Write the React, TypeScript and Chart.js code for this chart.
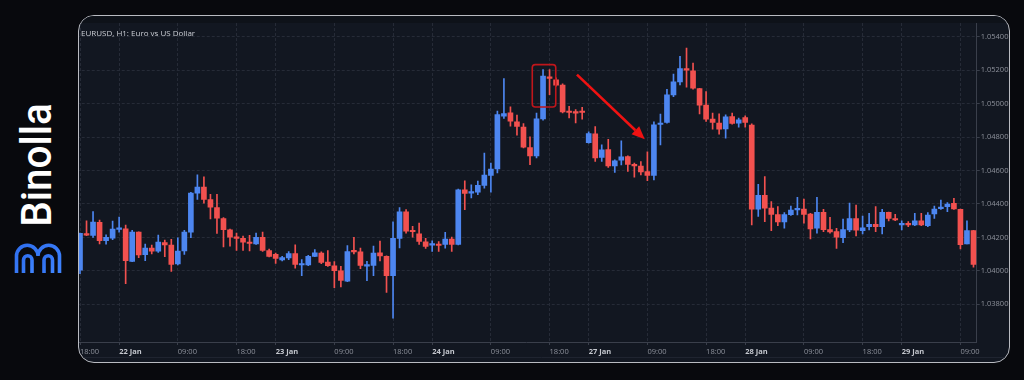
import React, { useEffect, useRef } from 'react';
import { Chart, registerables } from 'chart.js';

Chart.register(...registerables);

// ---- Data (EURUSD H1 candles) ----
const opens = [
  1.04005, 1.04222, 1.04212, 1.0429, 1.0418, 1.04196, 1.04248, 1.04252, 1.04057, 1.04232,
  1.04097, 1.04136, 1.04118, 1.0417, 1.04154, 1.04041, 1.0412, 1.04232, 1.04465, 1.04501,
  1.04427, 1.04379, 1.04313, 1.04246, 1.04198, 1.04194, 1.04168, 1.04162, 1.042, 1.04122,
  1.04099, 1.04065, 1.04077, 1.04103, 1.04035, 1.04035, 1.04087, 1.04106, 1.04053, 1.04031,
  1.04001, 1.03939, 1.04118, 1.04114, 1.04029, 1.04033, 1.04108, 1.04087, 1.03971, 1.04194,
  1.04353, 1.0424, 1.04222, 1.04174, 1.04154, 1.04156, 1.04158, 1.0419, 1.04158, 1.04485,
  1.04465, 1.04471, 1.04511, 1.04571, 1.04609, 1.04925, 1.04945, 1.04891, 1.04859, 1.04737,
  1.04687, 1.04909, 1.0516, 1.05142, 1.0511, 1.04955, 1.04949, 1.04953, 1.04767, 1.04819,
  1.04678, 1.04725, 1.04628, 1.04662, 1.04684, 1.04634, 1.04626, 1.04594, 1.0457, 1.04875,
  1.04887, 1.05052, 1.0513, 1.05208, 1.05196, 1.0509, 1.04991, 1.04907, 1.04883, 1.04849,
  1.04923, 1.04883, 1.04917, 1.04871, 1.04369, 1.04452, 1.04375, 1.04336, 1.04293, 1.04336,
  1.04364, 1.0437, 1.0434, 1.04255, 1.0435, 1.04247, 1.04235, 1.04199, 1.04245, 1.04312,
  1.04241, 1.04265, 1.04279, 1.04265, 1.0435, 1.0431, 1.04275, 1.04279, 1.04275, 1.043,
  1.04271, 1.0434, 1.04372, 1.04384, 1.04404, 1.04368, 1.04161, 1.04241,
];
const highs = [
  1.04226, 1.043, 1.04355, 1.04304, 1.04216, 1.04298, 1.04321, 1.04274, 1.04242, 1.04234,
  1.0416, 1.04154, 1.04214, 1.04184, 1.04188, 1.04198, 1.04242, 1.04469, 1.04574, 1.04562,
  1.04457, 1.04457, 1.04318, 1.0425, 1.04226, 1.04208, 1.04212, 1.04226, 1.04232, 1.0413,
  1.04106, 1.04087, 1.04116, 1.04156, 1.04067, 1.04093, 1.04128, 1.04114, 1.04122, 1.04055,
  1.04027, 1.04152, 1.042, 1.04136, 1.04057, 1.04148, 1.04178, 1.0409, 1.04294, 1.04379,
  1.04367, 1.04266, 1.04286, 1.04194, 1.0418, 1.04176, 1.0423, 1.04202, 1.04489, 1.04539,
  1.04515, 1.04537, 1.04705, 1.04645, 1.04955, 1.0515, 1.0498, 1.04931, 1.04881, 1.04801,
  1.04943, 1.05204, 1.05204, 1.05154, 1.05118, 1.04984, 1.04964, 1.04978, 1.04831, 1.04863,
  1.04753, 1.04787, 1.04664, 1.04777, 1.04688, 1.04644, 1.04654, 1.04711, 1.04891, 1.04937,
  1.05086, 1.05176, 1.05282, 1.05332, 1.05242, 1.05092, 1.05072, 1.04943, 1.04939, 1.04933,
  1.04943, 1.04913, 1.04927, 1.04879, 1.04518, 1.04564, 1.04414, 1.04385, 1.04348, 1.04388,
  1.0444, 1.0443, 1.04344, 1.0444, 1.04368, 1.0432, 1.04255, 1.0431, 1.04406, 1.04394,
  1.04328, 1.04344, 1.04384, 1.04368, 1.04352, 1.04338, 1.043, 1.04295, 1.04344, 1.04344,
  1.04348, 1.04388, 1.04424, 1.04408, 1.04434, 1.0437, 1.043, 1.04243,
];
const lows = [
  1.03983, 1.0421, 1.042, 1.04162, 1.0416, 1.04186, 1.04232, 1.03923, 1.04055, 1.04079,
  1.04061, 1.04101, 1.0411, 1.04085, 1.03997, 1.04035, 1.04099, 1.04198, 1.04427, 1.04405,
  1.04311, 1.04224, 1.04144, 1.04148, 1.04122, 1.04122, 1.0412, 1.04158, 1.04116, 1.04083,
  1.04045, 1.04059, 1.04067, 1.04017, 1.03971, 1.04031, 1.04085, 1.04043, 1.04027, 1.039,
  1.03904, 1.03935, 1.04101, 1.04013, 1.03941, 1.03971, 1.04059, 1.03872, 1.03718, 1.04138,
  1.04226, 1.04202, 1.04158, 1.04134, 1.04116, 1.04116, 1.04136, 1.04116, 1.04156, 1.04366,
  1.04436, 1.04455, 1.04495, 1.04471, 1.04585, 1.04911, 1.04865, 1.04811, 1.04735, 1.04635,
  1.04675, 1.04901, 1.05054, 1.05104, 1.04945, 1.04915, 1.04885, 1.04907, 1.04763, 1.04655,
  1.04654, 1.04618, 1.04588, 1.04634, 1.04594, 1.0456, 1.04574, 1.0454, 1.04544, 1.04753,
  1.04883, 1.05042, 1.05112, 1.05098, 1.05086, 1.04939, 1.04893, 1.04847, 1.04817, 1.04793,
  1.04877, 1.04859, 1.04859, 1.04275, 1.04325, 1.04295, 1.04241, 1.0427, 1.04255, 1.04332,
  1.04334, 1.04285, 1.04191, 1.04225, 1.04235, 1.04225, 1.04135, 1.04169, 1.04235, 1.04209,
  1.04221, 1.04245, 1.04235, 1.04221, 1.04299, 1.043, 1.04245, 1.04265, 1.04271, 1.04271,
  1.04265, 1.04314, 1.04368, 1.04354, 1.04368, 1.04131, 1.04161, 1.04022,
];
const closes = [
  1.04224, 1.04214, 1.04292, 1.0418, 1.042, 1.0425, 1.04256, 1.04061, 1.04232, 1.04095,
  1.04136, 1.04118, 1.04172, 1.04156, 1.04039, 1.04118, 1.04232, 1.04465, 1.04501, 1.04427,
  1.04381, 1.04315, 1.04246, 1.04202, 1.04194, 1.04172, 1.04164, 1.042, 1.04122, 1.04087,
  1.04075, 1.04079, 1.04103, 1.04039, 1.04041, 1.04087, 1.04108, 1.04051, 1.04031, 1.04001,
  1.03943, 1.04116, 1.04114, 1.04033, 1.04035, 1.04106, 1.04089, 1.03971, 1.04194, 1.04353,
  1.04238, 1.04234, 1.04176, 1.04146, 1.0416, 1.04152, 1.0419, 1.04158, 1.04485, 1.04463,
  1.04471, 1.04511, 1.04573, 1.04609, 1.04935, 1.04941, 1.04895, 1.04863, 1.04739, 1.04687,
  1.04909, 1.05164, 1.0515, 1.0511, 1.04951, 1.04947, 1.04943, 1.04947, 1.04821, 1.04675,
  1.04723, 1.04628, 1.04658, 1.04682, 1.04636, 1.04628, 1.04592, 1.0457, 1.04873, 1.04883,
  1.05052, 1.0513, 1.0521, 1.052, 1.05092, 1.04991, 1.04907, 1.04887, 1.04847, 1.04921,
  1.04881, 1.04903, 1.04887, 1.04369, 1.04452, 1.04375, 1.04337, 1.04293, 1.04336, 1.04364,
  1.04374, 1.04338, 1.04251, 1.0435, 1.04247, 1.04233, 1.04201, 1.04247, 1.04312, 1.04243,
  1.04257, 1.04279, 1.04265, 1.0435, 1.04314, 1.04304, 1.04281, 1.04275, 1.043, 1.04275,
  1.04334, 1.0437, 1.0438, 1.044, 1.0437, 1.04157, 1.04241, 1.04038,
];

// x-axis ticks: bar index -> label
const timeTickIndex = [0, 6, 15, 24, 30, 39, 48, 54, 63, 72, 78, 87, 96, 102, 111, 120, 126, 135];
const timeTickLabels = [
  '18:00', '22 Jan', '09:00', '18:00', '23 Jan', '09:00', '18:00', '24 Jan', '09:00',
  '18:00', '27 Jan', '09:00', '18:00', '28 Jan', '09:00', '18:00', '29 Jan', '09:00',
];
const priceTicks = [1.038, 1.04, 1.042, 1.044, 1.046, 1.048, 1.05, 1.052, 1.054];

// annotations in data units (bar index, price)
const boxX = [69.35, 72.95];
const boxY = [1.0498, 1.05233];
const arrowX = [76.2, 86.6];
const arrowY = [1.05173, 1.04787];

const chartTitle = 'EURUSD, H1: Euro vs US Dollar';

const UP = '#4d86f0';
const DOWN = '#f2514f';
const FONT = "'Open Sans', 'Noto Sans', sans-serif";

const overlayPlugin = {
  id: 'overlay',
  beforeDatasetsDraw(chart: any) {
    const { ctx } = chart;
    ctx.save();
    ctx.strokeStyle = '#1f2430';
    ctx.lineWidth = 1;
    ctx.beginPath();
    ctx.moveTo(0, 341.5);
    ctx.lineTo(chart.width, 341.5);
    ctx.stroke();
    ctx.restore();
  },
  afterDatasetsDraw(chart: any) {
    const { ctx, scales } = chart;
    const xs = scales.x;
    const ys = scales.y;
    ctx.save();
    // title
    ctx.fillStyle = '#c9ccd3';
    ctx.font = `8px ${FONT}`;
    ctx.textBaseline = 'middle';
    ctx.textAlign = 'left';
    ctx.fillText(chartTitle, 7, 17.5);

    // highlight box
    const bx0 = xs.getPixelForValue(boxX[0]);
    const bx1 = xs.getPixelForValue(boxX[1]);
    const by0 = ys.getPixelForValue(boxY[1]);
    const by1 = ys.getPixelForValue(boxY[0]);
    ctx.strokeStyle = '#c0161b';
    ctx.lineWidth = 1.6;
    ctx.beginPath();
    (ctx as any).roundRect(bx0, by0, bx1 - bx0, by1 - by0, 3);
    ctx.stroke();

    // arrow
    const ax0 = xs.getPixelForValue(arrowX[0]);
    const ay0 = ys.getPixelForValue(arrowY[0]);
    const ax1 = xs.getPixelForValue(arrowX[1]);
    const ay1 = ys.getPixelForValue(arrowY[1]);
    const ang = Math.atan2(ay1 - ay0, ax1 - ax0);
    const headLen = 13;
    const headW = 5.5;
    const bxh = ax1 - headLen * Math.cos(ang);
    const byh = ay1 - headLen * Math.sin(ang);
    ctx.strokeStyle = '#f01212';
    ctx.fillStyle = '#f01212';
    ctx.lineWidth = 2.6;
    ctx.beginPath();
    ctx.moveTo(ax0, ay0);
    ctx.lineTo(bxh, byh);
    ctx.stroke();
    ctx.beginPath();
    ctx.moveTo(ax1, ay1);
    ctx.lineTo(bxh + headW * Math.sin(ang), byh - headW * Math.cos(ang));
    ctx.lineTo(bxh - headW * Math.sin(ang), byh + headW * Math.cos(ang));
    ctx.closePath();
    ctx.fill();
    ctx.restore();
  },
};

export default function App() {
  const ref = useRef<HTMLCanvasElement>(null);

  useEffect(() => {
    const colors = opens.map((o, i) => (closes[i] >= o ? UP : DOWN));
    const wickData = highs.map((h, i) => ({ x: i, y: [lows[i], h] }));
    const bodyData = opens.map((o, i) => ({ x: i, y: [o, closes[i]] }));

    const chart = new Chart(ref.current as HTMLCanvasElement, {
      type: 'bar',
      data: {
        datasets: [
          {
            label: 'wick',
            data: wickData as any,
            backgroundColor: colors,
            barThickness: 1,
            grouped: false,
            order: 2,
            borderWidth: 0,
          } as any,
          {
            label: 'body',
            data: bodyData as any,
            backgroundColor: colors,
            barThickness: 5,
            minBarLength: 1.5,
            grouped: false,
            order: 1,
            borderWidth: 0,
            borderSkipped: false,
          } as any,
        ],
      },
      options: {
        responsive: false,
        animation: false,
        devicePixelRatio: 1,
        layout: { padding: { left: 2.74, top: 7, right: 0, bottom: 0 } },
        plugins: {
          legend: { display: false },
          tooltip: { enabled: false },
        },
        scales: {
          x: {
            type: 'linear',
            offset: false,
            min: -0.5,
            max: 137.5,
            afterBuildTicks: (s: any) => {
              s.ticks = timeTickIndex.map((v) => ({ value: v }));
            },
            afterFit: (s: any) => {
              s.height = 20;
            },
            ticks: {
              autoSkip: false,
              maxRotation: 0,
              minRotation: 0,
              align: 'start',
              padding: 2,
              callback: (_v: any, i: number) => timeTickLabels[i],
              color: (c: any) => (timeTickLabels[c.index] && timeTickLabels[c.index].includes('Jan') ? '#c4c7ce' : '#8d919b'),
              font: (c: any) => ({
                family: FONT,
                size: 7.5,
                weight: timeTickLabels[c.index] && timeTickLabels[c.index].includes('Jan') ? 'bold' : 'normal',
              }),
            },
            grid: { offset: false, color: '#262b37', lineWidth: 1, tickLength: 3, tickColor: '#3a3f4b' },
            border: { display: true, color: '#3a3f4b', dash: [3, 2] },
          } as any,
          y: {
            position: 'right',
            min: 1.03575,
            max: 1.054818,
            afterBuildTicks: (s: any) => {
              s.ticks = priceTicks.map((v) => ({ value: v }));
            },
            afterFit: (s: any) => {
              s.width = 32.26;
            },
            ticks: {
              padding: 1,
              color: '#8d919b',
              font: { family: FONT, size: 7.5 },
              callback: (v: any) => Number(v).toFixed(5),
            },
            grid: { color: '#262b37', lineWidth: 1, tickLength: 3, tickColor: '#3a3f4b' },
            border: { display: true, color: '#3a3f4b', dash: [3, 2] },
          } as any,
        },
      },
      plugins: [overlayPlugin],
    });
    return () => chart.destroy();
  }, []);

  return (
    <div
      style={{
        position: 'fixed',
        left: 0,
        top: 0,
        width: 1024,
        height: 380,
        background: '#08090d',
        overflow: 'hidden',
      }}
    >
      <div
        style={{
          position: 'absolute',
          left: 78,
          top: 15,
          width: 932,
          height: 348,
          boxSizing: 'border-box',
          border: '1px solid #b9bbc1',
          borderRadius: 16,
          background: '#121721',
          overflow: 'hidden',
        }}
      >
        <div style={{ position: 'absolute', left: 0, top: 0, right: 0, height: 7, background: '#0e1219' }} />
        <div style={{ position: 'absolute', left: -5, top: 0, width: 935, height: 346 }}>
          <canvas ref={ref} width={935} height={346} style={{ width: 935, height: 346, display: 'block' }} />
        </div>
      </div>

      {/* Binolla logo */}
      <div
        style={{
          position: 'absolute',
          left: 36,
          top: 165,
          transform: 'translate(-50%, -50%) rotate(-90deg) scaleX(0.94)',
          color: '#ffffff',
          fontFamily: "Roboto, 'Open Sans', sans-serif",
          fontWeight: 500,
          fontSize: 43,
          lineHeight: 1,
          whiteSpace: 'nowrap',
        }}
      >
        Binolla
      </div>
      <svg
        style={{ position: 'absolute', left: 14, top: 243 }}
        width={48}
        height={31}
        viewBox="0 0 48 31"
      >
        <defs>
          <linearGradient id="bg" x1="0" y1="0" x2="1" y2="1">
            <stop offset="0" stopColor="#2f6fef" />
            <stop offset="1" stopColor="#3f84ff" />
          </linearGradient>
        </defs>
        <g fill="none" stroke="url(#bg)" strokeWidth={3.6} strokeLinecap="butt">
          <path d="M2.5 30 V13 A10.75 10.75 0 0 1 24 13 A10.75 10.75 0 0 1 45.5 13 V30" />
          <path d="M24 13 V30" />
          <path d="M9.5 30 V17 A4.25 4.25 0 0 1 18 17 V30" />
          <path d="M30 30 V17 A4.25 4.25 0 0 1 38.5 17 V30" />
        </g>
      </svg>
    </div>
  );
}
